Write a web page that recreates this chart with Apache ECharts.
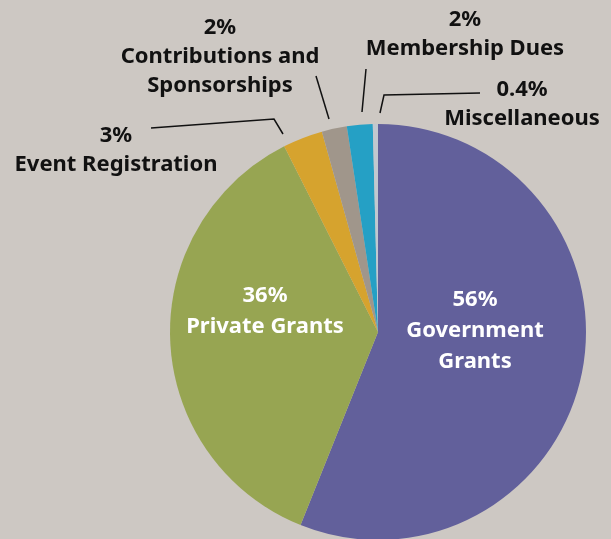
<!DOCTYPE html>
<html>
<head>
<meta charset="utf-8">
<script src="https://cdn.jsdelivr.net/npm/echarts@6/dist/echarts.min.js"></script>
<style>
  html, body { margin: 0; padding: 0; background: #cdc8c3; }
  #chart { width: 611px; height: 539px; }
</style>
</head>
<body>
<div id="chart"></div>
<script>
// data
const categories = ['Government Grants', 'Private Grants', 'Event Registration', 'Contributions and Sponsorships', 'Membership Dues', 'Miscellaneous']
const values = [56.1, 36.5, 3.1, 1.95, 2.0, 0.4]
const percentLabels = ['56%', '36%', '3%', '2%', '2%', '0.4%']
const labelTexts = ['Government\nGrants', 'Private Grants', 'Event Registration', 'Contributions and\nSponsorships', 'Membership Dues', 'Miscellaneous']

const colors = ['#62609b', '#97a552', '#d6a32e', '#a0968b', '#25a0c5', '#c1c8cf']

// label placement (centre of each label block) and leader lines
const labelPos = [[475, 331], [265, 311], [116, 150], [220, 57], [465, 34], [522, 104]]
const leaderLines = [
    null,
    null,
    [[283, 134], [274, 119], [151, 128]],
    [[329, 119], [316, 76]],
    [[362, 112], [366, 69]],
    [[380, 113], [384, 95], [480, 93]]
]

const chart = echarts.init(document.getElementById('chart'))

const seriesData = categories.map((name, i) => {
    const inside = i < 2
    return {
        name: name,
        value: values[i],
        itemStyle: { color: colors[i] },
        label: {
            color: inside ? '#ffffff' : '#111111',
            lineHeight: inside ? 31 : 29
        },
        labelLine: { show: !inside }
    }
})

chart.setOption({
    backgroundColor: '#cdc8c3',
    animation: false,
    series: [{
        type: 'pie',
        center: [378, 332],
        radius: 208,
        startAngle: 90,
        clockwise: true,
        avoidLabelOverlap: false,
        itemStyle: { borderWidth: 0 },
        label: {
            show: true,
            position: 'outside',
            fontFamily: 'Noto Sans',
            fontWeight: 'bold',
            fontSize: 22,
            align: 'center',
            formatter: p => percentLabels[p.dataIndex] + '\n' + labelTexts[p.dataIndex]
        },
        labelLine: {
            show: true,
            lineStyle: { color: '#111111', width: 1.5 }
        },
        labelLayout: params => {
            const i = params.dataIndex
            const pos = labelPos[i]
            const out = {
                x: pos[0],
                y: pos[1],
                align: 'center',
                verticalAlign: 'middle'
            }
            if (leaderLines[i]) out.labelLinePoints = leaderLines[i]
            return out
        },
        data: seriesData
    }]
})

window.addEventListener('resize', () => chart.resize())
</script>
</body>
</html>
